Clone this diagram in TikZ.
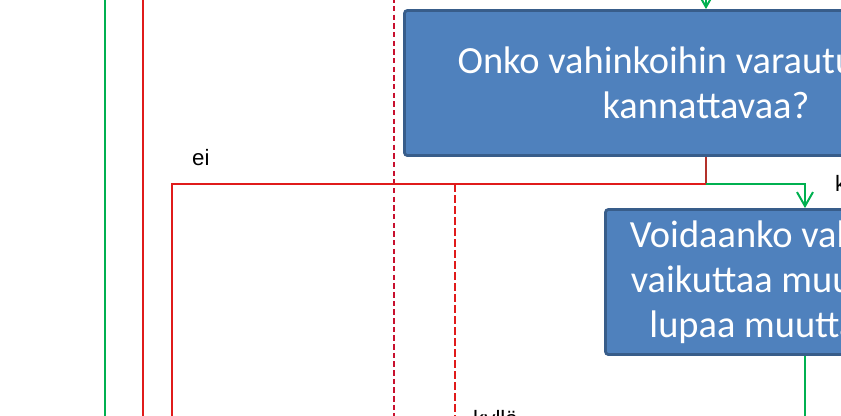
\documentclass[tikz,border=0pt]{standalone}
\usepackage{fontspec}
\setmainfont{Liberation Sans}
\newfontfamily\boxfont{Carlito}
\usetikzlibrary{arrows.meta, positioning}
\definecolor{boxfill}{HTML}{4F81BD}
\definecolor{boxline}{HTML}{385D8A}
\definecolor{yesgreen}{HTML}{00B050}
\definecolor{nored}{HTML}{E01B1B}
\definecolor{nodark}{HTML}{B3312A}
\definecolor{dashdark}{HTML}{C8102E}
\tikzset{
  question/.style = {draw=boxline, fill=boxfill, line width=2.4pt,
                     rounded corners=2.5pt, align=center, text=white,
                     font=\boxfont\fontsize{32.8}{38.5}\selectfont,
                     minimum height=4.35cm, inner sep=0pt},
  yes/.style      = {draw=yesgreen, line width=1.7pt},
  no/.style       = {draw=nored, line width=1.7pt},
  nostem/.style   = {draw=nodark, line width=1.7pt},
  yesarrow/.style = {yes, -{Straight Barb[length=4.2mm, width=4.8mm]}},
  maybe/.style    = {draw=dashdark, line width=1.6pt, dash pattern=on 4.6pt off 2.8pt},
  maybelong/.style= {draw=nored, line width=1.7pt, dash pattern=on 6.8pt off 2.6pt},
  answer/.style   = {font=\fontsize{19}{22}\selectfont, inner sep=0pt, anchor=base west}
}
\begin{document}
\begin{tikzpicture}[x=0.03cm, y=-0.03cm]
\useasboundingbox (0,0) rectangle (841,415);
\clip (0,0) rectangle (841,415);

% questions
\node[question, minimum width=18.09cm] at (706, 83) (cost)
  {Onko vahinkoihin varautuminen\\kannattavaa?};
\node[question, minimum width=11.97cm] at (805,282) (permit)
  {Voidaanko vahinkoihin\\vaikuttaa muuten kuin\\lupaa muuttamalla?};

% free ends
\coordinate (costin)    at (706,-20);
\coordinate (split)     at (706,184);
\coordinate (noleft)    at (172,184);
\coordinate (nodown)    at (172,440);
\coordinate (permitout) at (805,440);
\coordinate (greentop)  at (105,-20);
\coordinate (greenbot)  at (105,440);
\coordinate (redtop)    at (143,-20);
\coordinate (redbot)    at (143,440);
\coordinate (dashtop)   at (394,-20);
\coordinate (dashbot)   at (394,440);
\coordinate (dashstart) at (455,184);
\coordinate (dashend)   at (455,440);

% rails on the left
\draw[yes] (greentop) -- (greenbot);
\draw[no]  (redtop) -- (redbot);
\draw[maybe] (dashtop) -- (dashbot);
\draw[maybelong] (dashstart) -- (dashend);

% answers
\draw[yesarrow] (costin) -- (cost.north);
\draw[no] (split) -- (noleft) -- (nodown);
\draw[nostem] (cost.south) -- (split);
\draw[yesarrow] (split) -| (permit.north);
\draw[yes] (permit.south) -- (permitout);

\node[answer] at (192,165) (costno)   {ei};
\node[answer] at (835,191) (costyes)  {kyllä};
\node[answer] at (473,426) (maybeyes) {kyllä};
\end{tikzpicture}
\end{document}
